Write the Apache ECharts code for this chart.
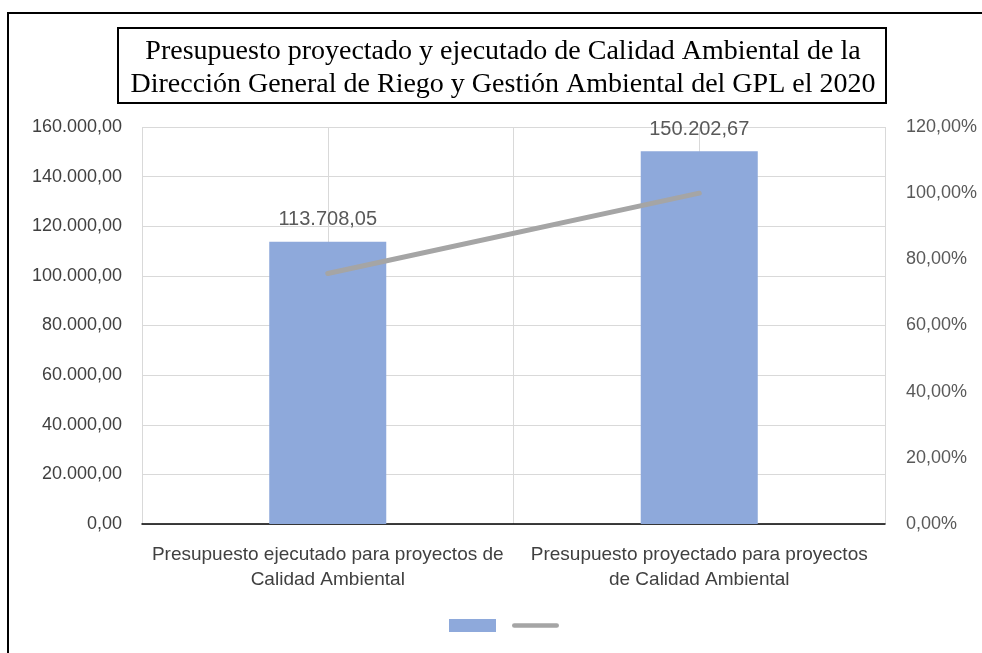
<!DOCTYPE html>
<html>
<head>
<meta charset="utf-8">
<script src="https://cdn.jsdelivr.net/npm/echarts@6/dist/echarts.min.js"></script>
<style>
  html, body { margin: 0; padding: 0; background: #fff; }
  #main { width: 982px; height: 653px; }
</style>
</head>
<body>
<div id="main"></div>
<script>
// datos
var categories = [
  'Presupuesto ejecutado para proyectos de\nCalidad Ambiental',
  'Presupuesto proyectado para proyectos\nde Calidad Ambiental'
];
var budgetValues = [113708.05, 150202.67];
var percentValues = [75.70, 100.00];
var titleLines = [
  'Presupuesto proyectado y ejecutado de Calidad Ambiental de la',
  'Dirección General de Riego y Gestión Ambiental del GPL el 2020'
];
var seriesNames = ['Presupuesto', 'Porcentaje'];

// 113708.05 -> "113.708,05"
function fmtMoney(v) {
  var parts = Number(v).toFixed(2).split('.');
  parts[0] = parts[0].replace(/\B(?=(\d{3})+(?!\d))/g, '.');
  return parts[0] + ',' + parts[1];
}
function fmtPct(v) {
  return Number(v).toFixed(2).replace('.', ',') + '%';
}

var chartDom = document.getElementById('main');
var myChart = echarts.init(chartDom);
var font = 'Liberation Sans';

var option = {
  animation: false,
  backgroundColor: '#fff',
  graphic: [
    {
      type: 'rect',
      shape: { x: 8, y: 13, width: 1000, height: 700 },
      style: { fill: 'none', stroke: '#000', lineWidth: 2 }
    },
    {
      type: 'rect',
      shape: { x: 118, y: 28, width: 768, height: 75 },
      style: { fill: '#fff', stroke: '#000', lineWidth: 2 }
    },
    {
      type: 'text',
      x: 503,
      y: 35,
      style: {
        text: titleLines.join('\n'),
        align: 'center',
        verticalAlign: 'top',
        fontFamily: 'Liberation Serif',
        fontSize: 28,
        lineHeight: 33,
        fill: '#000'
      }
    }
  ],
  legend: {
    left: 444,
    top: 614,
    itemWidth: 47,
    itemHeight: 13,
    itemGap: 16,
    formatter: function () { return ''; },
    data: [
      { name: seriesNames[0], icon: 'rect' },
      { name: seriesNames[1], icon: 'path://M2.5,0 L49.5,0 A2.5,2.5 0 0 1 49.5,5 L2.5,5 A2.5,2.5 0 0 1 2.5,0 Z' }
    ]
  },
  grid: { left: 142, right: 97, top: 127, bottom: 129 },
  xAxis: [
    {
      type: 'category',
      data: categories,
      axisTick: { show: false },
      axisLine: { lineStyle: { color: '#000', width: 1.5 } },
      splitLine: { show: false },
      axisLabel: {
        color: '#404040',
        fontFamily: font,
        fontSize: 19,
        lineHeight: 25,
        margin: 18,
        interval: 0
      }
    },
    {
      // solo para las lineas verticales de la cuadricula
      type: 'value',
      min: 0,
      max: 4,
      interval: 1,
      position: 'top',
      axisLine: { show: false },
      axisTick: { show: false },
      axisLabel: { show: false },
      splitLine: { show: true, lineStyle: { color: '#D9D9D9', width: 1 } }
    }
  ],
  yAxis: [
    {
      type: 'value',
      min: 0,
      max: 160000,
      interval: 20000,
      axisLine: { show: false },
      axisTick: { show: false },
      splitLine: { lineStyle: { color: '#D9D9D9', width: 1 } },
      axisLabel: {
        color: '#404040',
        fontFamily: font,
        fontSize: 18,
        margin: 20,
        formatter: fmtMoney
      }
    },
    {
      type: 'value',
      min: 0,
      max: 120,
      interval: 20,
      axisLine: { show: false },
      axisTick: { show: false },
      splitLine: { show: false },
      axisLabel: {
        color: '#595959',
        fontFamily: font,
        fontSize: 18,
        margin: 21,
        formatter: fmtPct
      }
    }
  ],
  series: [
    {
      name: seriesNames[0],
      type: 'bar',
      data: budgetValues,
      barWidth: '31.5%',
      itemStyle: { color: '#8EA9DB' },
      label: {
        show: true,
        position: 'top',
        distance: 12,
        color: '#595959',
        fontFamily: font,
        fontSize: 20,
        formatter: function (p) { return fmtMoney(p.value); }
      }
    },
    {
      name: seriesNames[1],
      type: 'line',
      yAxisIndex: 1,
      data: percentValues,
      symbol: 'none',
      lineStyle: { color: '#A5A5A5', width: 5, cap: 'round' },
      itemStyle: { color: '#A5A5A5' }
    }
  ]
};

myChart.setOption(option);
</script>
</body>
</html>
